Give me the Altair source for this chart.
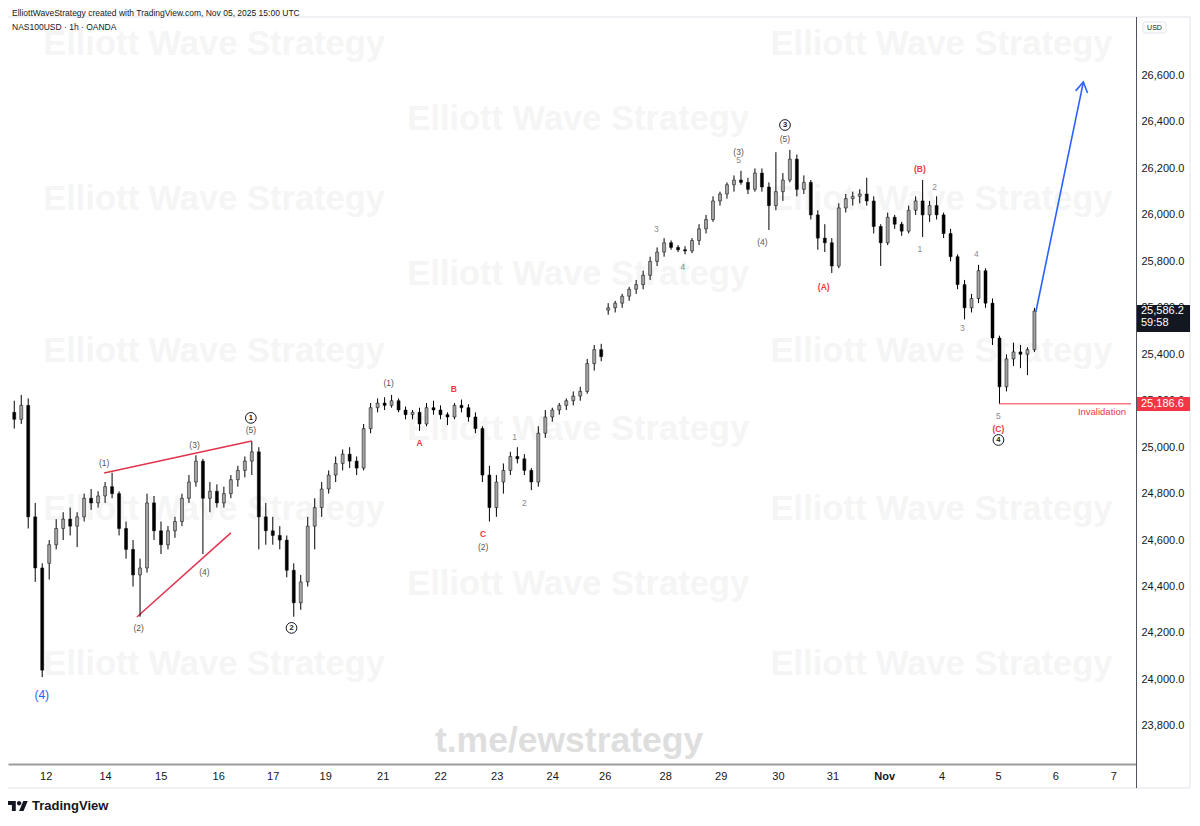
import altair as alt
import pandas as pd

# ---------------- candle data (approx. 2.9h bars, 8 per session) ----------------
opens = [25150, 25120, 25180, 24700, 24480,
         24500, 24580, 24650, 24690, 24660, 24700, 24780, 24760,
         24790, 24830, 24800, 24650, 24560, 24450, 24480, 24760,
         24640, 24580, 24640, 24680, 24780, 24850, 24940, 24780,
         24810, 24760, 24800, 24860, 24900, 24940, 24980, 24700,
         24640, 24620, 24600, 24470, 24330, 24420, 24660, 24740,
         24820, 24880, 24930, 24970, 24940, 24910, 25080, 25170,
         25190, 25180, 25200, 25160, 25140, 25150, 25100, 25170,
         25160, 25140, 25130, 25180, 25170, 25130, 25080, 24880,
         24740, 24850, 24900, 24960, 24950, 24900, 24850, 25060,
         25130, 25160, 25180, 25200, 25220, 25240, 25360, 25420,
         25590, 25600, 25620, 25650, 25680, 25700, 25740, 25800,
         25840, 25880, 25860, 25850, 25845, 25890, 25940, 25980,
         26060, 26090, 26130, 26150, 26140, 26110, 26180, 26120,
         26040, 26100, 26150, 26240, 26110, 26140, 26000, 25900,
         25880, 25780, 26030, 26070, 26080, 26090, 26060, 25950,
         25880, 25990, 25960, 25930, 26020, 26060, 26000, 26040,
         26000, 25920, 25820, 25700, 25600, 25640, 25760, 25620,
         25470, 25260, 25380, 25410, 25400, 25420]
highs = [25200, 25225, 25210, 24760, 24500,
         24600, 24690, 24720, 24740, 24720, 24800, 24820, 24810,
         24850, 24890, 24810, 24680, 24600, 24520, 24800, 24790,
         24680, 24660, 24700, 24800, 24880, 24965, 24950, 24850,
         24840, 24830, 24880, 24920, 24960, 25025, 25000, 24760,
         24700, 24660, 24620, 24500, 24450, 24700, 24780, 24850,
         24900, 24960, 24990, 25000, 24960, 25100, 25190, 25210,
         25215, 25225, 25210, 25175, 25160, 25170, 25190, 25200,
         25180, 25150, 25190, 25205, 25185, 25150, 25090, 24920,
         24880, 24930, 24980, 25000, 24970, 24910, 25090, 25160,
         25170, 25190, 25210, 25240, 25260, 25380, 25440, 25445,
         25620, 25630, 25660, 25690, 25720, 25760, 25820, 25860,
         25900, 25890, 25870, 25865, 25900, 25960, 26000, 26080,
         26100, 26140, 26170, 26190, 26160, 26200, 26200, 26140,
         26270, 26180, 26280, 26260, 26170, 26150, 26020, 25960,
         25900, 26050, 26090, 26100, 26110, 26160, 26080, 25960,
         26010, 26000, 25970, 26040, 26080, 26150, 26060, 26080,
         26010, 25940, 25830, 25720, 25660, 25785, 25770, 25640,
         25480, 25400, 25450, 25440, 25430, 25600]
lows = [25080, 25100, 24650, 24420, 24010,
        24430, 24560, 24600, 24620, 24570, 24680, 24730, 24740,
        24760, 24780, 24620, 24520, 24400, 24270, 24460, 24600,
        24540, 24560, 24610, 24660, 24760, 24830, 24540, 24720,
        24740, 24740, 24780, 24830, 24870, 24880, 24560, 24580,
        24580, 24560, 24440, 24270, 24300, 24400, 24560, 24700,
        24800, 24850, 24900, 24910, 24880, 24900, 25060, 25150,
        25160, 25170, 25150, 25120, 25120, 25070, 25090, 25140,
        25120, 25095, 25120, 25150, 25110, 25060, 24850, 24680,
        24700, 24800, 24880, 24930, 24880, 24815, 24830, 25040,
        25110, 25140, 25160, 25180, 25200, 25230, 25330, 25370,
        25570, 25580, 25600, 25630, 25660, 25680, 25720, 25780,
        25820, 25850, 25840, 25830, 25835, 25870, 25920, 25970,
        26040, 26070, 26100, 26130, 26090, 26100, 26100, 25935,
        26020, 26060, 26140, 26080, 26090, 25980, 25850, 25840,
        25750, 25770, 26010, 26040, 26050, 26040, 25920, 25780,
        25870, 25940, 25910, 25920, 26000, 25905, 25970, 25980,
        25900, 25800, 25680, 25550, 25580, 25620, 25600, 25440,
        25186.6, 25240, 25350, 25340, 25310, 25410]
closes = [25120, 25180, 24700, 24480, 24040,
          24580, 24650, 24690, 24660, 24700, 24780, 24760, 24790,
          24830, 24800, 24650, 24560, 24450, 24480, 24760, 24640,
          24580, 24640, 24680, 24780, 24850, 24940, 24780, 24810,
          24760, 24800, 24860, 24900, 24940, 24980, 24700, 24640,
          24620, 24600, 24470, 24330, 24420, 24660, 24740, 24820,
          24880, 24930, 24970, 24940, 24910, 25080, 25170, 25190,
          25180, 25200, 25160, 25140, 25150, 25100, 25170, 25160,
          25140, 25130, 25180, 25170, 25130, 25080, 24880, 24740,
          24850, 24900, 24960, 24950, 24900, 24850, 25060, 25130,
          25160, 25180, 25200, 25220, 25240, 25360, 25420, 25390,
          25600, 25620, 25650, 25680, 25700, 25740, 25800, 25840,
          25880, 25860, 25850, 25845, 25890, 25940, 25980, 26060,
          26090, 26130, 26150, 26140, 26110, 26180, 26120, 26040,
          26100, 26150, 26240, 26110, 26140, 26000, 25900, 25880,
          25780, 26030, 26070, 26080, 26090, 26060, 25950, 25880,
          25990, 25960, 25930, 26020, 26060, 26000, 26040, 26000,
          25920, 25820, 25700, 25600, 25640, 25760, 25620, 25470,
          25260, 25380, 25410, 25400, 25420, 25586.2]

# ---------------- axes ----------------
x_label_pos = [4.5, 13.0, 20.95, 29.18, 36.98, 44.5, 52.73, 60.95, 69.04, 76.98,
               84.5, 93.15, 101.1, 109.3, 117.1, 124.5, 132.7, 140.8, 149.0, 157.3]
x_label_text = ["12", "14", "15", "16", "17", "19", "21", "22", "23", "24",
                "26", "28", "29", "30", "31", "Nov", "4", "5", "6", "7"]
y_ticks = [23800, 24000, 24200, 24400, 24600, 24800, 25000, 25200, 25400,
           25600, 25800, 26000, 26200, 26400, 26600]
X_DOM = [-0.18, 159.82]
Y_DOM = [23636, 26852]

# ---------------- annotations ----------------
lab_text = ["(4)", "(1)", "(2)", "(3)", "(4)", "(5)", "(1)", "A", "B", "C", "(2)",
            "1", "2", "3", "4", "(3)", "5", "(4)", "(5)", "(A)", "(B)", "1", "2",
            "4", "3", "5", "(C)"]
lab_bar = [3.93, 12.87, 17.8, 25.8, 27.2, 33.86, 53.58, 58.0, 62.9, 67.1, 67.1,
           71.6, 73.0, 91.88, 95.7, 103.65, 103.65, 107.06, 110.3, 115.85, 129.6, 129.6, 131.7,
           137.7, 135.7, 140.85, 140.85]
lab_price = [23933, 24932, 24222, 25010, 24463, 25074, 25277, 25018, 25251, 24627, 24571,
             25044, 24760, 25940, 25776, 26271, 26237, 25884, 26327, 25690, 26198, 25854, 26121,
             25832, 25513, 25135, 25079]
lab_kind = ["blue", "dark", "dark", "dark", "dark", "dark", "dark", "red", "red", "red", "dark",
            "grey", "grey", "grey", "grey", "dark", "grey", "dark", "dark", "red", "red", "grey", "grey",
            "grey", "grey", "grey", "red"]
kind_color = {"blue": "#2962ff", "dark": "#555555", "grey": "#8a8a8a", "red": "#f23645"}

circ_text = ["1", "2", "3", "4"]
circ_bar = [33.86, 39.68, 110.3, 140.85]
circ_price = [25126, 24222, 26387, 25031]

wedge_id = ["upper", "upper", "lower", "lower"]
wedge_bar = [12.87, 33.99, 17.55, 31.0]
wedge_price = [24889, 25027, 24269, 24631]

arrow_bar = [146.2, 153.0]
arrow_price = [25582, 26572]
head_bar = [151.9, 153.0, 153.6]
head_price = [26534, 26572, 26525]

invalid_price = 25186.6
invalid_start = 140.96
last_price = 25586.2

wm_bar = [28.6, 132.7, 80.7, 28.6, 132.7, 80.7, 28.6, 132.7, 80.7, 28.6, 132.7, 80.7, 28.6, 132.7]
wm_price = [26732, 26732, 26409, 26064, 26064, 25742, 25410, 25410, 25074, 24730, 24730,
            24407, 24063, 24063]

# ---------------- build ----------------
FONT = "Liberation Sans"
xs = alt.Scale(domain=X_DOM, nice=False, zero=False)
ys = alt.Scale(domain=Y_DOM, nice=False, zero=False)

candles = pd.DataFrame({"bar": list(range(len(opens))), "open": opens, "high": highs,
                        "low": lows, "close": closes})
candles["fill"] = ["#a3a3a3" if c >= o else "#000000" for o, c in zip(opens, closes)]

label_expr = "[" + ",".join("'%s'" % t for t in x_label_text) + "][indexof([" + \
    ",".join(repr(v) for v in x_label_pos) + "], datum.value)]"

x_axis = alt.Axis(values=x_label_pos, labelExpr=label_expr, domain=True, domainColor="#9b9b9b",
                  domainWidth=2, ticks=False, grid=False, labelFontSize=11, labelColor="#131722",
                  labelPadding=6, title=None, labelFlush=False, labelOverlap=False,
                  labelFontWeight={"expr": "datum.value == 124.5 ? 'bold' : 'normal'"})
y_axis = alt.Axis(orient="right", values=y_ticks, format=",.1f", domain=False, ticks=False,
                  grid=False, labelAlign="left", labelPadding=5, labelFontSize=11,
                  labelColor="#131722", title=None)


def X(f):
    return alt.X(f, type="quantitative", scale=xs, axis=x_axis)


def Y(f):
    return alt.Y(f, type="quantitative", scale=ys, axis=y_axis)


one = pd.DataFrame({"a": [0]})

frame = alt.Chart(one).mark_rect(fillOpacity=0, stroke="#e0e3eb", strokeWidth=1).encode(
    x=alt.value(-1), x2=alt.value(1182), y=alt.value(0), y2=alt.value(771))

wm = pd.DataFrame({"bar": wm_bar, "price": wm_price})
watermark = alt.Chart(wm).mark_text(text="Elliott Wave Strategy", font=FONT, fontSize=34.5,
                                    fontWeight="bold", color="#f5f5f6").encode(
    x=X("bar"), y=Y("price"))
tme = alt.Chart(pd.DataFrame({"bar": [79.4], "price": [23735]})).mark_text(
    text="t.me/ewstrategy", font=FONT, fontSize=35.5, fontWeight="bold", color="#dedede").encode(
    x=X("bar"), y=Y("price"))

wedge = alt.Chart(pd.DataFrame({"id": wedge_id, "bar": wedge_bar, "price": wedge_price})).mark_line(
    color="#e0334f", strokeWidth=1.5).encode(x=X("bar"), y=Y("price"), detail="id:N")

wicks = alt.Chart(candles).mark_rule(color="#000000", strokeWidth=1).encode(
    x=X("bar"), y=Y("low"), y2="high:Q")
bodies = alt.Chart(candles).mark_bar(width=3, stroke="#000000", strokeWidth=0.5).encode(
    x=X("bar"), y=Y("open"), y2="close:Q",
    color=alt.Color("fill:N", scale=None))

inval = alt.Chart(pd.DataFrame({"b1": [invalid_start], "b2": [X_DOM[1]], "price": [invalid_price]})).mark_rule(
    color="#f23645", strokeWidth=1).encode(x=X("b1"), x2="b2:Q", y=Y("price"))
inval_txt = alt.Chart(pd.DataFrame({"bar": [159.1], "price": [25152]})).mark_text(
    text="Invalidation", align="right", font=FONT, fontSize=9.5, color="#f23645").encode(
    x=X("bar"), y=Y("price"))

arrow = alt.Chart(pd.DataFrame({"bar": arrow_bar, "price": arrow_price, "o": [0, 1]})).mark_line(
    color="#2962ff", strokeWidth=1.6).encode(x=X("bar"), y=Y("price"), order="o:Q")
head = alt.Chart(pd.DataFrame({"bar": head_bar, "price": head_price, "o": [0, 1, 2]})).mark_line(
    color="#2962ff", strokeWidth=1.6).encode(x=X("bar"), y=Y("price"), order="o:Q")

labs = pd.DataFrame({"text": lab_text, "bar": lab_bar, "price": lab_price})
labs["col"] = [kind_color[k] for k in lab_kind]
labs["size"] = [12 if k == "blue" else 8.5 for k in lab_kind]
labs["wt"] = ["bold" if k == "red" else "normal" for k in lab_kind]
labels_n = alt.Chart(labs[labs["wt"] == "normal"]).mark_text(font=FONT, baseline="middle").encode(
    x=X("bar"), y=Y("price"), text="text:N",
    color=alt.Color("col:N", scale=None),
    size=alt.Size("size:Q", scale=None))
labels_b = alt.Chart(labs[labs["wt"] == "bold"]).mark_text(font=FONT, baseline="middle",
                                                           fontWeight="bold").encode(
    x=X("bar"), y=Y("price"), text="text:N",
    color=alt.Color("col:N", scale=None),
    size=alt.Size("size:Q", scale=None))

circ = pd.DataFrame({"text": circ_text, "bar": circ_bar, "price": circ_price})
circles = alt.Chart(circ).mark_point(shape="circle", filled=False, size=115, color="#131722",
                                     strokeWidth=1, opacity=1).encode(x=X("bar"), y=Y("price"))
circ_txt = alt.Chart(circ).mark_text(font=FONT, fontSize=7.5, fontWeight="bold",
                                     color="#131722", baseline="middle").encode(
    x=X("bar"), y=Y("price"), text="text:N")

boxes = pd.DataFrame({"top": [25612, 25216], "bot": [25496, 25156], "fill": ["#131722", "#f23645"]})
price_boxes = alt.Chart(boxes).mark_rect().encode(
    x=alt.value(1129), x2=alt.value(1182), y=Y("top"), y2="bot:Q",
    color=alt.Color("fill:N", scale=None))
ptxt1 = pd.DataFrame({"t": ["25,586.2", "25,186.6"], "price": [last_price, invalid_price]})
price_txt = alt.Chart(ptxt1).mark_text(align="left", baseline="middle", font=FONT, fontSize=11,
                                       color="#ffffff").encode(
    x=alt.value(1133), y=Y("price"), text="t:N")
ptxt2 = pd.DataFrame({"t": ["59:58"], "price": [last_price]})
count_txt = alt.Chart(ptxt2).mark_text(align="left", baseline="middle", font=FONT, fontSize=11,
                                       color="#ffffff", dy=12).encode(
    x=alt.value(1133), y=Y("price"), text="t:N")

sep = alt.Chart(one).mark_rule(color="#50535e", strokeWidth=1).encode(
    x=alt.value(1128.5), y=alt.value(0), y2=alt.value(771))

usd_box = alt.Chart(one).mark_rect(fill="#ffffff", stroke="#e0e3eb", cornerRadius=2).encode(
    x=alt.value(1135), x2=alt.value(1158), y=alt.value(5), y2=alt.value(16))
usd_txt = alt.Chart(one).mark_text(text="USD", font=FONT, fontSize=7, color="#131722",
                                   baseline="middle").encode(x=alt.value(1146.5), y=alt.value(10.5))

header = alt.Chart(one).mark_text(
    text="ElliottWaveStrategy created with TradingView.com, Nov 05, 2025 15:00 UTC",
    align="left", baseline="middle", font=FONT, fontSize=8.5, color="#131722").encode(
    x=alt.value(4), y=alt.value(-4))
symbol = alt.Chart(one).mark_text(text="NAS100USD · 1h · OANDA", align="left", baseline="middle",
                                  font=FONT, fontSize=8.5, color="#131722").encode(
    x=alt.value(4), y=alt.value(10))

logo_path = ("M-0.222,0.5 L-0.611,0.5 L-0.611,-0.111 L-1,-0.111 L-1,-0.5 L-0.222,-0.5 Z "
             "M0.556,0.5 L0.111,0.5 L0.528,-0.5 L0.972,-0.5 Z "
             "M-0.111,-0.278 A0.222,0.222 0 1,0 0.333,-0.278 A0.222,0.222 0 1,0 -0.111,-0.278 Z")
logo = alt.Chart(one).mark_point(shape=logo_path, filled=True, size=400, color="#131722",
                                 opacity=1).encode(x=alt.value(10), y=alt.value(789))
logo_txt = alt.Chart(one).mark_text(text="TradingView", align="left", baseline="middle", font=FONT,
                                    fontSize=13, fontWeight="bold", color="#131722").encode(
    x=alt.value(24), y=alt.value(789))

chart = alt.layer(
    frame, watermark, tme, wedge, wicks, bodies, inval, inval_txt, arrow, head,
    labels_n, labels_b, circles, circ_txt, price_boxes, price_txt, count_txt, sep, usd_box, usd_txt,
    header, symbol, logo, logo_txt
).properties(
    width=1128, height=747,
    padding={"left": 0, "top": 9, "right": 55, "bottom": 52},
    autosize=alt.AutoSizeParams(type="none"),
    background="#ffffff",
).configure(font=FONT).configure_view(strokeWidth=0)

chart.save("out.html", embed_options={"renderer": "svg", "actions": False})
